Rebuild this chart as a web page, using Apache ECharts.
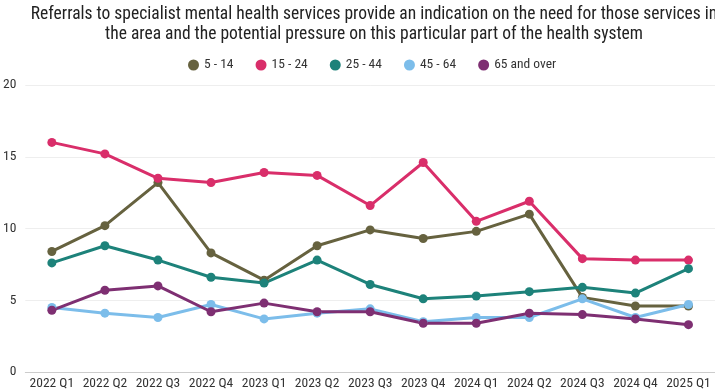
<!DOCTYPE html>
<html>
<head>
<meta charset="utf-8">
<style>
  html, body { margin: 0; padding: 0; background: #fff; }
  #chart { width: 715px; height: 391px; }
</style>
<script src="https://cdn.jsdelivr.net/npm/echarts@6/dist/echarts.min.js"></script>
</head>
<body>
<div id="chart"></div>
<script>
// Quarterly referral rates to specialist mental health services, by age band
const quarters = ['2022 Q1', '2022 Q2', '2022 Q3', '2022 Q4', '2023 Q1', '2023 Q2', '2023 Q3',
                  '2023 Q4', '2024 Q1', '2024 Q2', '2024 Q3', '2024 Q4', '2025 Q1'];

const age5to14   = [8.4, 10.2, 13.2, 8.3, 6.4, 8.8, 9.9, 9.3, 9.8, 11.0, 5.2, 4.6, 4.6];
const age15to24  = [16.0, 15.2, 13.5, 13.2, 13.9, 13.7, 11.6, 14.6, 10.5, 11.9, 7.9, 7.8, 7.8];
const age25to44  = [7.6, 8.8, 7.8, 6.6, 6.2, 7.8, 6.1, 5.1, 5.3, 5.6, 5.9, 5.5, 7.2];
const age45to64  = [4.5, 4.1, 3.8, 4.7, 3.7, 4.1, 4.4, 3.5, 3.8, 3.8, 5.1, 3.8, 4.7];
const age65plus  = [4.3, 5.7, 6.0, 4.2, 4.8, 4.2, 4.2, 3.4, 3.4, 4.1, 4.0, 3.7, 3.3];

const yTicks = { min: 0, max: 20, interval: 5 };

const fontFamily = "'Roboto Condensed', 'Liberation Sans Narrow', 'Arial Narrow', Roboto, sans-serif";

const seriesDefs = [
  { name: '5 - 14', data: age5to14, color: '#66623f' },
  { name: '15 - 24', data: age15to24, color: '#d92e6a' },
  { name: '25 - 44', data: age25to44, color: '#1d827a' },
  { name: '45 - 64', data: age45to64, color: '#7cbdea' },
  { name: '65 and over', data: age65plus, color: '#7e2f72' }
];

const chart = echarts.init(document.getElementById('chart'), null, { renderer: 'canvas' });

chart.setOption({
  backgroundColor: '#ffffff',
  animation: false,
  textStyle: { fontFamily: fontFamily },
  title: {
    text: 'Referrals to specialist mental health services provide an indication on the need for those services in\nthe area and the potential pressure on this particular part of the health system',
    left: 369,
    textAlign: 'center',
    top: 0,
    textStyle: {
      fontFamily: fontFamily,
      fontSize: 17.5,
      fontWeight: 'normal',
      color: '#222',
      lineHeight: 20
    }
  },
  legend: {
    top: 53,
    left: 183,
    icon: 'circle',
    itemWidth: 11,
    itemHeight: 11,
    itemGap: 22,
    textStyle: { fontFamily: fontFamily, fontSize: 13.5, color: '#333' },
    data: seriesDefs.map(s => s.name)
  },
  grid: { left: 20, right: -9, top: 85, bottom: 18, containLabel: false },
  xAxis: {
    type: 'category',
    data: quarters,
    boundaryGap: true,
    axisLine: { lineStyle: { color: '#cccccc' } },
    axisTick: { show: false },
    axisLabel: { color: '#333', fontSize: 13.5, margin: 5, interval: 0, fontFamily: fontFamily }
  },
  yAxis: {
    type: 'value',
    min: yTicks.min,
    max: yTicks.max,
    interval: yTicks.interval,
    axisLine: { show: false },
    axisTick: { show: false },
    axisLabel: { color: '#333', fontSize: 13.5, margin: 9, fontFamily: fontFamily },
    splitLine: { lineStyle: { color: '#eeeeee' } }
  },
  series: seriesDefs.map(s => ({
    name: s.name,
    type: 'line',
    data: s.data,
    symbol: 'circle',
    symbolSize: 9,
    itemStyle: { color: s.color },
    lineStyle: { color: s.color, width: 3 },
    emphasis: { disabled: true }
  }))
});
</script>
</body>
</html>
